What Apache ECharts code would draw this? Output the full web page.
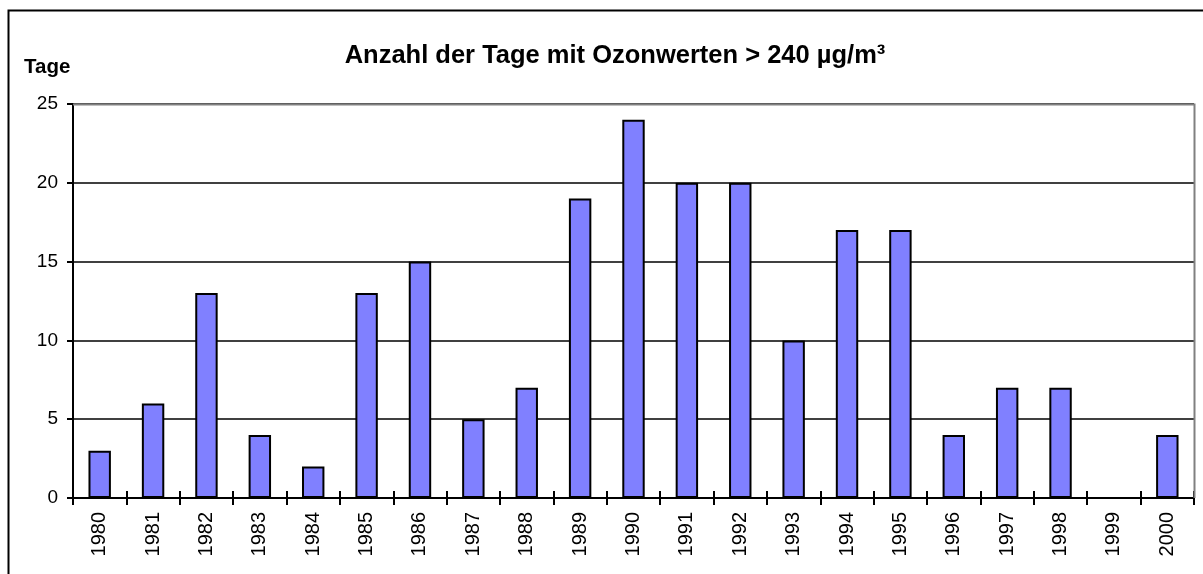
<!DOCTYPE html>
<html>
<head>
<meta charset="utf-8">
<script src="https://cdn.jsdelivr.net/npm/echarts@6/dist/echarts.min.js"></script>
<style>
  html, body { margin: 0; padding: 0; background: #fff; }
  #chart { width: 1203px; height: 574px; }
</style>
</head>
<body>
<div id="chart"></div>
<script>
// Tage mit Ozonwerten > 240 µg/m³ je Jahr
const years = ['1980', '1981', '1982', '1983', '1984', '1985', '1986', '1987', '1988', '1989',
  '1990', '1991', '1992', '1993', '1994', '1995', '1996', '1997', '1998', '1999', '2000']
const days = [3, 6, 13, 4, 2, 13, 15, 5, 7, 19, 24, 20, 20, 10, 17, 17, 4, 7, 7, 0, 4]

const chart = echarts.init(document.getElementById('chart'))

const font = 'Arial, "Liberation Sans", sans-serif'

const option = {
  animation: false,
  graphic: [
    {
      type: 'rect',
      shape: { x: 8.5, y: 10.5, width: 1300, height: 700 },
      style: { fill: 'none', stroke: '#000', lineWidth: 2 }
    },
    {
      // grauer Rahmen oben/rechts der Zeichenfläche
      type: 'polyline',
      shape: { points: [[73, 104.5], [1194.5, 104.5], [1194.5, 498]] },
      style: { stroke: '#808080', lineWidth: 2, fill: 'none' },
      z: 5
    }
  ],
  title: [
    {
      text: 'Anzahl der Tage mit Ozonwerten > 240 µg/m³',
      left: 615,
      top: 43,
      padding: 0,
      textAlign: 'center',
      textStyle: { fontFamily: font, fontSize: 25.5, fontWeight: 'bold', color: '#000' }
    },
    {
      text: 'Tage',
      left: 24,
      top: 57,
      padding: 0,
      textStyle: { fontFamily: font, fontSize: 20.5, fontWeight: 'bold', color: '#000' }
    }
  ],
  grid: {
    left: 73,
    right: 1203 - 1194,
    top: 104,
    bottom: 574 - 498
  },
  xAxis: [
    {
      type: 'category',
      data: years,
      boundaryGap: true,
      axisLine: { show: true, lineStyle: { color: '#000', width: 2 } },
      axisTick: { show: true, inside: false, length: 7, lineStyle: { color: '#000', width: 2 } },
      axisLabel: {
        rotate: 90,
        margin: 14,
        fontFamily: font,
        fontSize: 20,
        color: '#000',
        interval: 0
      },
      splitLine: { show: false }
    },
    {
      type: 'category',
      data: years,
      position: 'bottom',
      boundaryGap: true,
      axisLine: { show: false },
      axisTick: { show: true, inside: true, length: 7, lineStyle: { color: '#000', width: 2 } },
      axisLabel: { show: false }
    }
  ],
  yAxis: {
    type: 'value',
    min: 0,
    max: 25,
    interval: 5,
    axisLine: { show: true, lineStyle: { color: '#000', width: 2 } },
    axisTick: { show: true, inside: false, length: 6, lineStyle: { color: '#000', width: 2 } },
    axisLabel: { fontFamily: font, fontSize: 19, color: '#000', margin: 15 },
    splitLine: { show: true, lineStyle: { color: '#000', width: 1.5 } }
  },
  series: [
    {
      type: 'bar',
      data: days,
      barWidth: '42%',
      itemStyle: { color: '#8080FF', borderColor: '#000', borderWidth: 2 },
      z: 3
    }
  ]
}

chart.setOption(option)
</script>
</body>
</html>
